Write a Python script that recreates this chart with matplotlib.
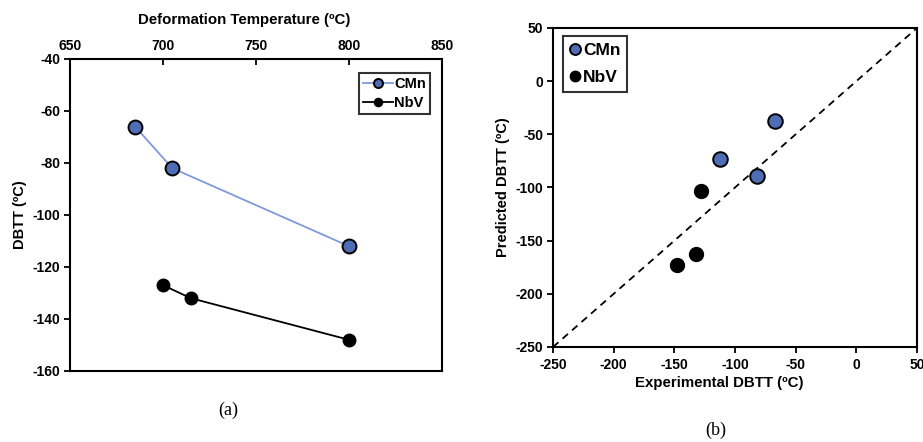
import matplotlib.pyplot as plt

plt.rcParams['font.family'] = ['Liberation Sans', 'DejaVu Sans']
plt.rcParams['font.weight'] = 'bold'
plt.rcParams['axes.unicode_minus'] = False

# (a) DBTT vs deformation temperature
temp_cmn = [685, 705, 800]
dbtt_cmn = [-66, -82, -112]
temp_nbv = [700, 715, 800]
dbtt_nbv = [-127, -132, -148]

# (b) predicted vs experimental DBTT
exp_cmn = [-67, -112, -82]
pred_cmn = [-37, -73, -89]
exp_nbv = [-128, -132, -148]
pred_nbv = [-103, -163, -173]

blue = '#4F6DB5'
line_blue = '#7E9ADA'

fig = plt.figure(figsize=(9.23, 4.42), dpi=100)
W, H = 923, 442

def box(l, t, r, b):
    return [l / W, 1 - b / H, (r - l) / W, (b - t) / H]

def style(ax, xdir='out'):
    for s in ax.spines.values():
        s.set_linewidth(1.5)
    ax.tick_params(axis='y', direction='out', length=4, width=1.3, labelsize=10, pad=3)
    ax.tick_params(axis='x', direction=xdir, length=4, width=1.3, labelsize=10, pad=4)

# panel (a)
ax1 = fig.add_axes(box(70, 59, 442, 371))
ax1.plot(temp_cmn, dbtt_cmn, '-o', color=line_blue, lw=1.3, ms=10,
         mfc=blue, mec='black', mew=1.4, label='CMn')
ax1.plot(temp_nbv, dbtt_nbv, '-o', color='black', lw=1.3, ms=9,
         mfc='black', mec='black', label='NbV')
ax1.set_xlim(650, 850)
ax1.set_ylim(-160, -40)
ax1.set_xticks(range(650, 851, 50))
ax1.set_yticks(range(-160, -39, 20))
ax1.xaxis.tick_top()
ax1.xaxis.set_label_position('top')
ax1.set_xlabel('Deformation Temperature (ºC)', fontsize=10.8, fontweight='bold')
ax1.xaxis.set_label_coords(0.468, 1.125)
ax1.xaxis.label.set_va('center')
ax1.set_ylabel('DBTT (ºC)', fontsize=10.5, fontweight='bold', labelpad=4)
style(ax1, xdir='in')
leg1 = ax1.legend(loc='upper right', bbox_to_anchor=(0.968, 0.955), fontsize=10.5,
                  frameon=True, fancybox=False, edgecolor='black',
                  handlelength=2.0, handletextpad=0.1, borderpad=0.3,
                  markerscale=0.65, labelspacing=0.3, borderaxespad=0)
leg1.get_frame().set_linewidth(1.5)
fig.text(228 / W, 1 - 410 / H, '(a)', family='Liberation Serif', fontsize=13,
         fontweight='normal', ha='center', va='center')

# panel (b)
ax2 = fig.add_axes(box(553, 28, 917, 347))
ax2.plot([-250, 50], [-250, 50], '--', color='black', lw=1.3, dashes=(4, 3))
ax2.plot(exp_cmn, pred_cmn, 'o', ms=10.5, mfc=blue, mec='black', mew=1.4, label='CMn')
ax2.plot(exp_nbv, pred_nbv, 'o', ms=10, mfc='black', mec='black', label='NbV')
ax2.set_xlim(-250, 50)
ax2.set_ylim(-250, 50)
ax2.set_xticks(range(-250, 51, 50))
ax2.set_yticks(range(-250, 51, 50))
ax2.set_xlabel('Experimental DBTT (ºC)', fontsize=10.8, fontweight='bold')
ax2.xaxis.set_label_coords(0.456, -0.113)
ax2.xaxis.label.set_va('center')
ax2.set_ylabel('Predicted DBTT (ºC)', fontsize=10.5, fontweight='bold', labelpad=4)
style(ax2)
leg2 = ax2.legend(loc='upper left', bbox_to_anchor=(0.027, 0.975), fontsize=12.5,
                  frameon=True, fancybox=False, edgecolor='black',
                  handlelength=0.6, handletextpad=0.15, borderpad=0.4,
                  markerscale=0.75, labelspacing=0.7, borderaxespad=0)
leg2.get_frame().set_linewidth(1.5)
fig.text(716 / W, 1 - 430 / H, '(b)', family='Liberation Serif', fontsize=13,
         fontweight='normal', ha='center', va='center')

fig.savefig('out.png', dpi=100)
